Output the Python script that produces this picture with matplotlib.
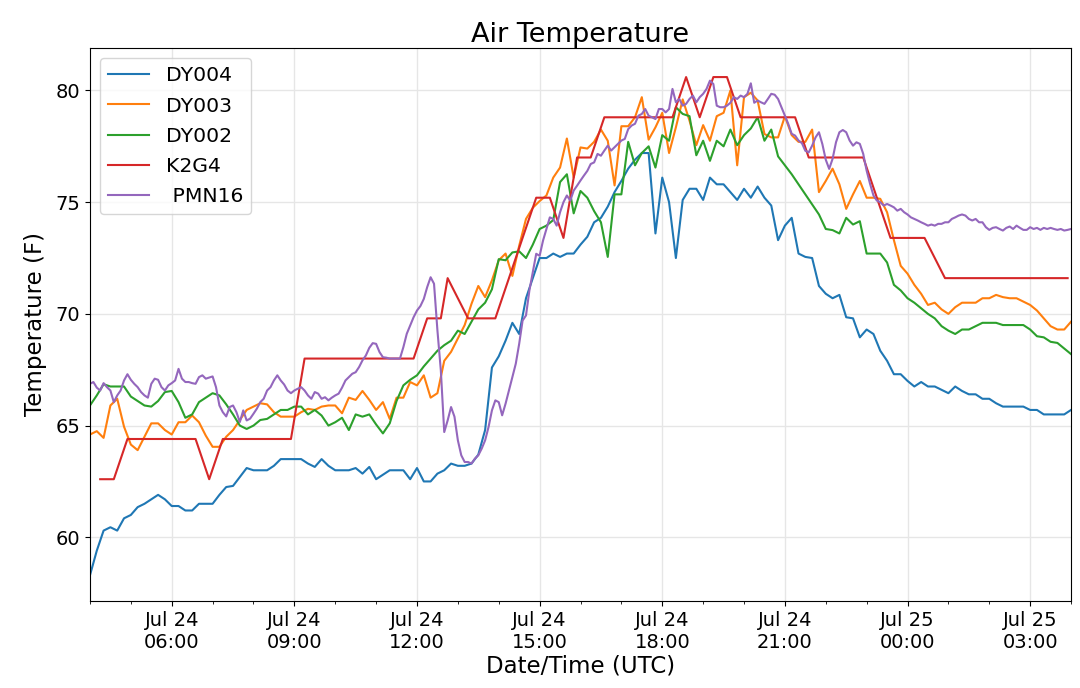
import numpy as np
import pandas as pd
import matplotlib
matplotlib.use("Agg")
import matplotlib.pyplot as plt
import matplotlib.dates as mdates

START = pd.Timestamp("2019-07-24 04:00")

# DY stations -> one obs every 10 min from 04:00 UTC
dy004 = [58.3, 59.4, 60.3, 60.45, 60.3, 60.85, 61.0, 61.35, 61.5, 61.7, 61.9, 61.7,
         61.4, 61.4, 61.2, 61.2, 61.5, 61.5, 61.5, 61.9, 62.25, 62.3, 62.7, 63.1,
         63.0, 63.0, 63.0, 63.2, 63.5, 63.5, 63.5, 63.5, 63.3, 63.15, 63.5, 63.2,
         63.0, 63.0, 63.0, 63.1, 62.85, 63.15, 62.6, 62.8, 63.0, 63.0, 63.0, 62.6,
         63.1, 62.5, 62.5, 62.85, 63.0, 63.3, 63.2, 63.2, 63.3, 63.7, 64.8, 67.6,
         68.1, 68.8, 69.6, 69.1, 70.7, 71.6, 72.5, 72.5, 72.7, 72.55, 72.7, 72.7,
         73.1, 73.45, 74.1, 74.3, 74.8, 75.45, 75.95, 76.5, 76.9, 77.2, 77.2, 73.6,
         76.1, 75.0, 72.5, 75.1, 75.6, 75.6, 75.1, 76.1, 75.8, 75.8, 75.45, 75.1,
         75.6, 75.2, 75.7, 75.2, 74.85, 73.3, 73.95, 74.3, 72.7, 72.55, 72.5, 71.25,
         70.9, 70.7, 70.85, 69.85, 69.8, 68.95, 69.3, 69.1, 68.35, 67.9, 67.3, 67.3,
         67.0, 66.75, 66.95, 66.75, 66.75, 66.6, 66.45, 66.75, 66.55, 66.4, 66.4, 66.2,
         66.2, 66.0, 65.85, 65.85, 65.85, 65.85, 65.7, 65.7, 65.5, 65.5, 65.5, 65.5,
         65.7]

dy003 = [64.6, 64.75, 64.45, 65.9, 66.2, 64.95, 64.15, 63.9, 64.5, 65.1, 65.1, 64.8,
         64.6, 65.15, 65.15, 65.45, 65.15, 64.55, 64.05, 64.05, 64.5, 64.8, 65.25, 65.7,
         65.85, 66.0, 65.95, 65.6, 65.4, 65.4, 65.4, 65.6, 65.75, 65.7, 65.85, 65.9,
         65.9, 65.55, 66.25, 66.15, 66.55, 66.15, 65.7, 66.05, 65.3, 66.25, 66.25, 66.95,
         66.8, 67.25, 66.25, 66.45, 67.9, 68.3, 68.9, 69.5, 70.45, 71.25, 70.75, 71.5,
         72.4, 72.7, 71.7, 73.05, 74.25, 74.75, 75.05, 75.3, 76.1, 76.55, 77.85, 76.1,
         77.45, 77.4, 77.7, 78.25, 77.75, 75.75, 78.4, 78.4, 78.8, 79.7, 77.8, 78.35,
         79.0, 77.2, 78.35, 79.6, 78.65, 77.55, 78.45, 77.75, 78.85, 79.0, 80.0, 76.65,
         79.7, 79.9, 79.55, 78.05, 77.9, 77.9, 78.85, 78.0, 77.7, 77.7, 78.25, 75.45,
         75.95, 76.5, 75.8, 74.7, 75.35, 75.95, 75.2, 75.2, 75.15, 74.55, 73.3, 72.15,
         71.8, 71.3, 70.9, 70.4, 70.5, 70.2, 70.0, 70.3, 70.5, 70.5, 70.5, 70.7,
         70.7, 70.85, 70.75, 70.7, 70.7, 70.55, 70.4, 70.15, 69.8, 69.45, 69.3, 69.3,
         69.65]

dy002 = [65.9, 66.35, 66.85, 66.75, 66.75, 66.75, 66.3, 66.1, 65.9, 65.85, 66.1, 66.5,
         66.55, 66.05, 65.35, 65.5, 66.05, 66.25, 66.45, 66.35, 65.95, 65.5, 65.0, 64.85,
         65.0, 65.25, 65.3, 65.5, 65.7, 65.7, 65.85, 65.85, 65.5, 65.7, 65.45, 65.0,
         65.15, 65.35, 64.8, 65.5, 65.4, 65.5, 65.05, 64.65, 65.1, 66.1, 66.8, 67.05,
         67.25, 67.65, 68.0, 68.35, 68.6, 68.8, 69.25, 69.1, 69.65, 70.2, 70.5, 71.1,
         72.45, 72.4, 72.75, 72.8, 72.5, 73.1, 73.8, 73.95, 74.2, 75.9, 76.25, 74.5,
         75.5, 75.2, 74.6, 74.1, 72.55, 75.35, 75.35, 77.7, 76.65, 77.2, 77.5, 76.55,
         78.0, 77.75, 79.25, 78.95, 78.85, 77.1, 77.75, 76.85, 77.75, 77.5, 78.25, 77.55,
         78.0, 78.3, 78.8, 77.75, 78.25, 77.05, 76.65, 76.25, 75.8, 75.35, 74.9, 74.45,
         73.8, 73.75, 73.6, 74.3, 74.0, 74.15, 72.7, 72.7, 72.7, 72.3, 71.3, 71.05,
         70.7, 70.5, 70.25, 70.0, 69.8, 69.45, 69.25, 69.1, 69.3, 69.3, 69.45, 69.6,
         69.6, 69.6, 69.5, 69.5, 69.5, 69.5, 69.3, 69.0, 68.95, 68.75, 68.7, 68.45,
         68.2]

# K2G4 (whole deg C -> F), minutes after 04:00
k2g4_min = [15, 35, 55, 155, 175, 195, 295, 315, 475, 495, 515, 525, 555, 595,
            655, 675, 695, 715, 735, 755, 855, 875, 895, 915, 935, 955, 1035,
            1055, 1135, 1175, 1225, 1255, 1435]
k2g4 = [62.6, 62.6, 64.4, 64.4, 62.6, 64.4, 64.4, 68.0, 68.0, 69.8, 69.8, 71.6,
        69.8, 69.8, 75.2, 75.2, 73.4, 77.0, 77.0, 78.8, 78.8, 80.6, 78.8, 80.6,
        80.6, 78.8, 78.8, 77.0, 77.0, 73.4, 73.4, 71.6, 71.6]

# PMN16, 5 min samples from 04:00
pmn16 = [66.87, 66.95, 66.7, 66.57, 66.9, 66.72, 66.57, 66.05, 66.35, 66.57, 67.02, 67.3,
         67.05, 66.87, 66.72, 66.5, 66.35, 66.25, 66.87, 67.1, 67.05, 66.72, 66.57, 66.8,
         66.9, 67.02, 67.54, 67.1, 66.95, 66.95, 66.9, 66.87, 67.17, 67.25, 67.1, 67.15,
         67.2, 66.72, 65.9, 65.6, 65.41, 65.83, 65.9, 65.6, 65.16, 65.68, 65.23, 65.31,
         65.53, 65.76, 66.05, 66.2, 66.57, 66.72, 67.02, 67.25, 67.02, 66.84, 66.57, 66.45,
         66.57, 66.65, 66.72, 66.57, 66.35, 66.2, 66.5, 66.43, 66.2, 66.27, 66.13, 66.25,
         66.35, 66.43, 66.7, 67.02, 67.17, 67.32, 67.39, 67.62, 67.92, 68.14, 68.48, 68.69,
         68.66, 68.29, 68.06, 68.04, 68.0, 68.0, 68.0, 68.0, 68.51, 69.11, 69.48, 69.85,
         70.15, 70.35, 70.67, 71.2, 71.64, 71.35, 69.26, 67.47, 64.71, 65.23, 65.83, 65.4,
         64.34, 63.67, 63.37, 63.37, 63.3, 63.52, 63.67, 63.97, 64.34, 64.93, 65.68, 66.13,
         66.05, 65.46, 65.98, 66.57, 67.17, 67.77, 68.66, 69.7, 69.93, 71.05, 71.87, 72.69,
         72.6, 73.28, 73.8, 74.32, 74.25, 73.95, 74.55, 75.0, 75.3, 75.07, 75.52, 75.74,
         75.97, 76.19, 76.4, 76.71, 76.78, 77.16, 77.08, 77.31, 77.53, 77.31, 77.46, 77.61,
         77.76, 77.83, 78.27, 78.43, 78.51, 78.87, 78.95, 79.17, 78.87, 78.8, 78.72, 79.17,
         79.17, 79.02, 79.17, 80.07, 79.47, 79.62, 79.32, 79.4, 79.62, 79.77, 79.47, 79.7,
         79.85, 80.07, 80.44, 80.29, 79.32, 79.25, 79.25, 79.32, 79.45, 79.7, 79.62, 79.77,
         79.7, 79.85, 80.32, 79.45, 79.55, 79.47, 79.4, 79.62, 79.85, 79.81, 79.62, 79.25,
         78.87, 78.5, 78.06, 77.98, 77.76, 77.64, 77.3, 77.23, 77.53, 77.9, 78.13, 77.6,
         76.9, 76.49, 76.94, 77.68, 78.13, 78.23, 78.13, 77.76, 77.53, 77.68, 77.61, 77.16,
         76.41, 75.82, 75.3, 75.07, 75.0, 74.85, 74.92, 74.85, 74.77, 74.62, 74.7, 74.55,
         74.45, 74.32, 74.25, 74.18, 74.1, 74.03, 73.95, 74.0, 73.95, 74.03, 74.03, 74.1,
         74.1, 74.25, 74.32, 74.4, 74.45, 74.4, 74.25, 74.18, 74.25, 74.1, 74.1, 73.88,
         73.76, 73.85, 73.88, 73.8, 73.73, 73.85, 73.91, 73.8, 73.95, 73.85, 73.76, 73.76,
         73.88, 73.8, 73.85, 73.76, 73.85, 73.8, 73.85, 73.8, 73.76, 73.8, 73.73, 73.76,
         73.8]


t_dy = pd.date_range(START, periods=len(dy004), freq="10min")
t_k2g4 = START + pd.to_timedelta(k2g4_min, unit="min")
t_pmn = pd.date_range(START, periods=len(pmn16), freq="5min")

fig = plt.figure(figsize=(10.8, 6.88), dpi=100)
ax = fig.add_axes([0.0833, 0.1265, 0.9084, 0.8037])

ax.plot(t_dy, dy004, label="DY004")
ax.plot(t_dy, dy003, label="DY003")
ax.plot(t_dy, dy002, label="DY002")
ax.plot(t_k2g4, k2g4, label="K2G4")
ax.plot(t_pmn, pmn16, label=" PMN16")

ax.set_xlim(START, START + pd.Timedelta(hours=24))
ax.set_ylim(57.15, 81.9)
ax.set_yticks([60, 65, 70, 75, 80])

ax.xaxis.set_major_locator(mdates.HourLocator(byhour=range(0, 24, 3)))
ax.xaxis.set_minor_locator(mdates.HourLocator())
ax.xaxis.set_major_formatter(mdates.DateFormatter("%b %d\n%H:%M"))
ax.tick_params(axis="both", which="major", labelsize=14)

ax.grid(True, which="major", color="#e6e6e6", linewidth=1.0)
ax.set_axisbelow(True)

ax.set_title("Air Temperature", fontsize=19.5, pad=3)
ax.set_xlabel("Date/Time (UTC)", fontsize=16.5, labelpad=2)
ax.set_ylabel("Temperature (F)", fontsize=16.5, labelpad=6)
ax.legend(loc="upper left", fontsize=14.7, borderaxespad=0.5, labelspacing=0.55)

fig.savefig("out.png", dpi=100)
